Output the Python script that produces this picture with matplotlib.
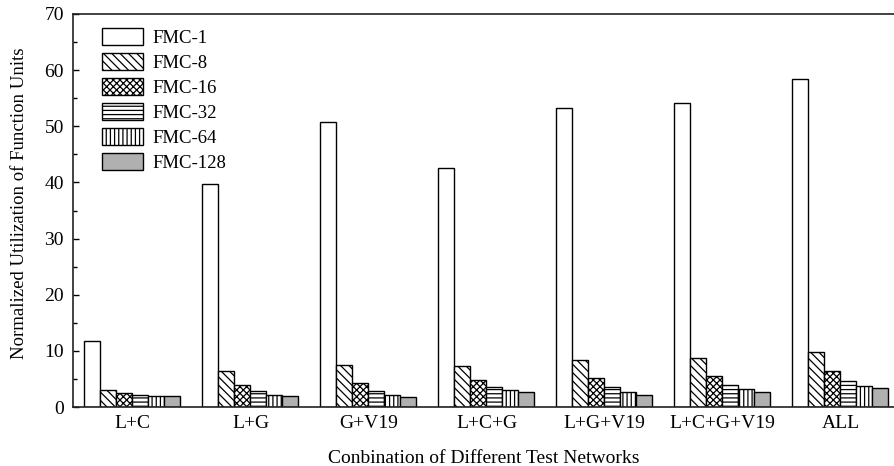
import matplotlib
matplotlib.use("Agg")
import matplotlib.pyplot as plt
import numpy as np
from matplotlib.ticker import MultipleLocator

categories = ["L+C", "L+G", "G+V19", "L+C+G", "L+G+V19", "L+C+G+V19", "ALL"]
series_names = ["FMC-1", "FMC-8", "FMC-16", "FMC-32", "FMC-64", "FMC-128"]
fmc1 = [11.8, 39.8, 50.8, 42.5, 53.3, 54.1, 58.5]
fmc8 = [3.1, 6.4, 7.4, 7.3, 8.3, 8.8, 9.8]
fmc16 = [2.5, 4.0, 4.3, 4.8, 5.1, 5.5, 6.4]
fmc32 = [2.2, 2.8, 2.8, 3.5, 3.5, 3.9, 4.7]
fmc64 = [2.0, 2.2, 2.1, 3.0, 2.6, 3.2, 3.7]
fmc128 = [1.9, 1.9, 1.7, 2.6, 2.2, 2.7, 3.3]
all_series = [fmc1, fmc8, fmc16, fmc32, fmc64, fmc128]

hatches = ["", "\\\\\\\\", "xxxxx", "----", "||||", ""]
faces = ["white", "white", "white", "white", "white", "#b0b0b0"]

plt.rcParams["font.family"] = ["Liberation Serif", "DejaVu Serif"]
plt.rcParams["hatch.linewidth"] = 0.9

fig = plt.figure(figsize=(8.95, 4.66), dpi=100)
ax = fig.add_axes([73/895, 59/466, 1 - 73/895, 393/466])

x = np.arange(len(categories))
w = 0.1356
for i, (name, vals) in enumerate(zip(series_names, all_series)):
    ax.bar(x + (i - 2.5) * w, vals, width=w, facecolor=faces[i], edgecolor="black",
           linewidth=1.0, hatch=hatches[i], label=name)

ax.set_xlim(-0.504, -0.504 + 822/118)
ax.set_ylim(0, 70)
ax.yaxis.set_major_locator(MultipleLocator(10))
ax.yaxis.set_minor_locator(MultipleLocator(5))
ax.tick_params(axis="y", which="major", direction="in", length=4, width=1, labelsize=14, pad=6.5)
ax.tick_params(axis="y", which="minor", direction="in", length=3, width=1)
ax.set_xticks(x)
ax.set_xticklabels(categories)
ax.tick_params(axis="x", length=0, labelsize=14, pad=6)
ax.spines["right"].set_visible(False)
for s in ["left", "bottom", "top"]:
    ax.spines[s].set_linewidth(1.2)
    ax.spines[s].set_color("#222222")

ax.set_ylabel("Normalized Utilization of Function Units", fontsize=13.5)
ax.yaxis.set_label_coords(-0.0547, 0.519)
ax.set_xlabel("Conbination of Different Test Networks", fontsize=14, labelpad=13)

leg = ax.legend(loc="upper left", bbox_to_anchor=(102/895, 1 - 28/466),
                bbox_transform=fig.transFigure, frameon=False, fontsize=13.5,
                handlelength=2.2, handleheight=1.0, labelspacing=0.33,
                handletextpad=0.5, borderpad=0, borderaxespad=0)

fig.savefig("out.png", dpi=100)
